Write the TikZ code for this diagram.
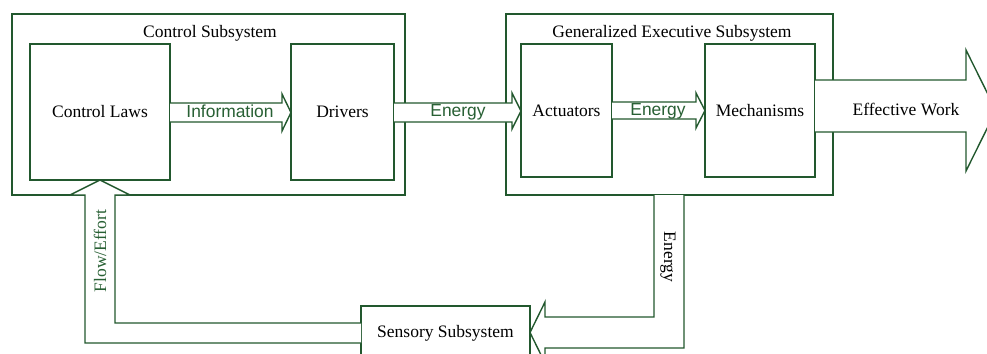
\documentclass[tikz,border=0pt]{standalone}
\usepackage{fontspec}
\setmainfont{Liberation Serif}
\newfontfamily\arialfont{Liberation Sans}
\definecolor{lgreen}{RGB}{34,88,46}
\definecolor{tgreen}{RGB}{40,96,52}
\begin{document}
\begin{tikzpicture}[x=0.5pt,y=-0.5pt,
  lw/.style={line width=0.7pt},
  box/.style={draw=lgreen,lw,fill=white,inner sep=0pt,outer sep=0pt,
    font=\fontsize{8.75}{10}\selectfont,text=black},
  flow/.style={draw=lgreen,lw,fill=white,line join=miter},
  lab/.style={font=\fontsize{8.75}{10}\selectfont,text=black,inner sep=0pt},
  slab/.style={font=\arialfont\fontsize{8.7}{10}\selectfont,text=tgreen,inner sep=0pt,anchor=base}]
\useasboundingbox (0,0) rectangle (987,354);
% outer subsystems
\node[box,minimum width=196.5pt,minimum height=90.5pt] (cs) at (208.5,104.5) {};
\node[box,minimum width=163.5pt,minimum height=90.5pt] (ges) at (669.5,104.5) {};
\node[lab,anchor=base] (cst) at (210,37.7) {Control Subsystem};
\node[lab,anchor=base] (gest) at (672,37.7) {Generalized Executive Subsystem};
% inner boxes
\node[box,minimum width=70pt,minimum height=68pt] (cl) at (100,112) {Control Laws};
\node[box,minimum width=51.5pt,minimum height=68pt] (dr) at (342.5,112) {Drivers};
\node[box,minimum width=45.5pt,minimum height=66.5pt] (ac) at (566.5,110.5) {Actuators};
\node[box,minimum width=55pt,minimum height=66.5pt] (me) at (760,110.5) {Mechanisms};
\node[box,minimum width=84.5pt,minimum height=28pt] (ss) at (445.5,334) {};
\node[lab,anchor=base] (sst) at (445.5,337.7) {Sensory Subsystem};
% Information arrow
\draw[flow] (cl.east |- 0,103) -- (282,103) -- (282,94) -- (dr.west |- 0,112.5) -- (282,131) -- (282,122) -- (cl.east |- 0,122);
\node[slab] (info) at (230,117) {Information};
% Energy arrow 1
\draw[flow] (dr.east |- 0,103) -- (512,103) -- (512,93) -- (ac.west |- 0,111) -- (512,129) -- (512,122) -- (dr.east |- 0,122);
\node[slab] (en1) at (458,116.7) {Energy};
% Energy arrow 2
\draw[flow] (ac.east |- 0,102) -- (696,102) -- (696,93) -- (me.west |- 0,110.5) -- (696,128) -- (696,119) -- (ac.east |- 0,119);
\node[slab] (en2) at (658,115) {Energy};
% Effective work
\coordinate (ewtip) at (996,110.5);
\draw[flow] (me.east |- 0,80) -- (966,80) -- (966,50) -- (ewtip) -- (966,171) -- (966,132) -- (me.east |- 0,132);
\node[lab,anchor=base] (ew) at (906,115) {Effective Work};
% Energy down to sensory
\draw[flow] (654,0 |- ges.south) -- (654,317) -- (545,317) -- (545,302) -- (ss.east |- 0,332.5) -- (545,363) -- (545,348) -- (684,348) -- (684,0 |- ges.south);
\node[lab,rotate=-90] (en3) at (668,257) {Energy};
% Flow/Effort feedback
\draw[flow] (ss.west |- 0,323) -- (115,323) -- (115,195) -- (130,195) -- (cl.south) -- (70,195) -- (85,195) -- (85,343) -- (ss.west |- 0,343);
\node[lab,rotate=90,text=tgreen] (fe) at (100,251) {Flow/Effort};
\end{tikzpicture}
\end{document}
